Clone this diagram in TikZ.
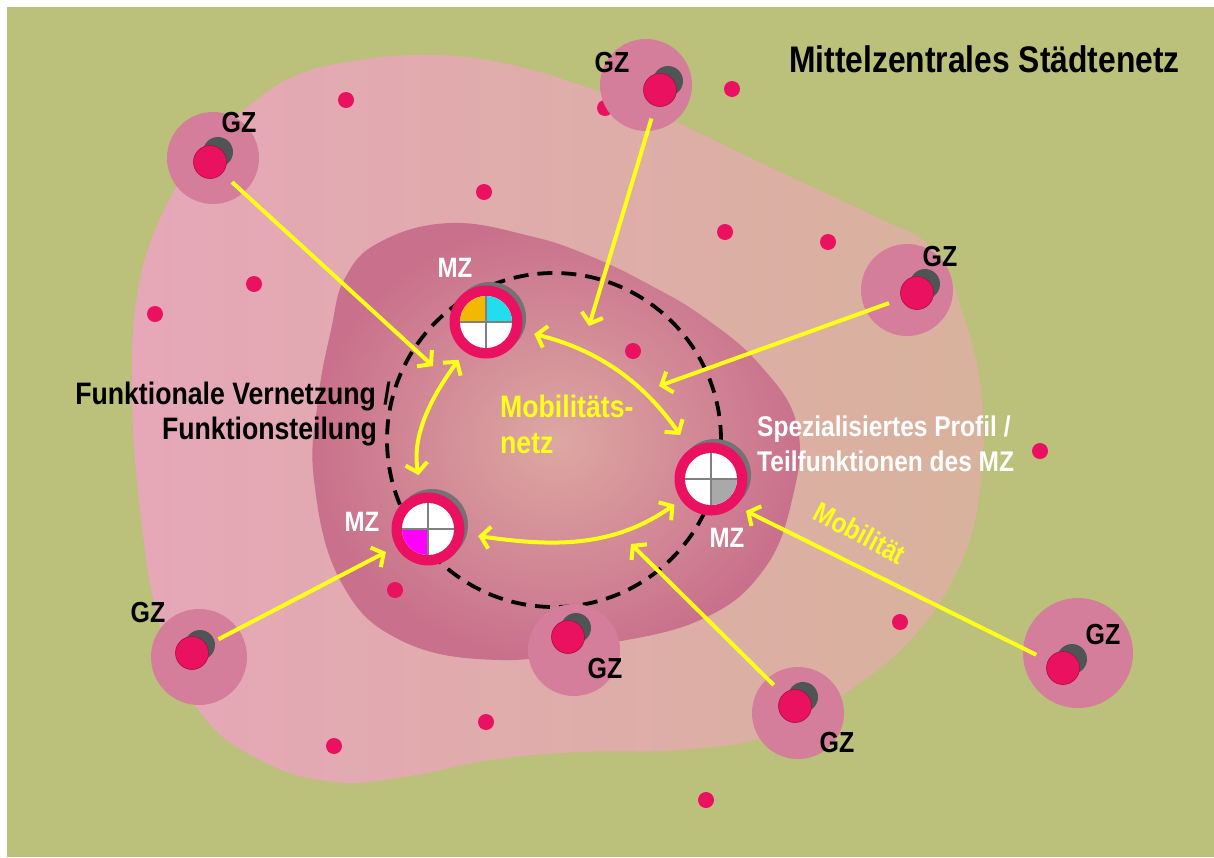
\documentclass[tikz,border=0pt]{standalone}
\usepackage{fontspec}
\setmainfont{Liberation Sans}[FakeStretch=0.86]
\usepackage{xcolor}
\usepackage{tikz}
\usetikzlibrary{arrows.meta}
\definecolor{CBBC07A}{HTML}{BBC07A}
\definecolor{CE6A7B8}{HTML}{E6A7B8}
\definecolor{CD8B29C}{HTML}{D8B29C}
\definecolor{CC9708C}{HTML}{C9708C}
\definecolor{CDDA8A2}{HTML}{DDA8A2}
\definecolor{CD47E9C}{HTML}{D47E9C}
\definecolor{C4F5454}{HTML}{4F5454}
\definecolor{CEA1160}{HTML}{EA1160}
\definecolor{CA80E45}{HTML}{A80E45}
\definecolor{C737373}{HTML}{737373}
\definecolor{CFFFF1A}{HTML}{FFFF1A}
\definecolor{CF5B800}{HTML}{F5B800}
\definecolor{C22DDEE}{HTML}{22DDEE}
\definecolor{CFF00FF}{HTML}{FF00FF}
\definecolor{CA9A9A9}{HTML}{A9A9A9}
\definecolor{C808080}{HTML}{808080}

\begin{document}
\begin{tikzpicture}[inner sep=0pt,
  >={Straight Barb[length=9pt,width=22pt]},
  halo/.style={shape=circle, fill=CD47E9C, minimum size=92pt},
  gzshadow/.style={shape=circle, fill=C4F5454, minimum size=30pt},
  gzdot/.style={shape=circle, fill=CEA1160, draw=CA80E45, line width=0.6pt, minimum size=33pt},
  spot/.style={shape=circle, fill=CEA1160, minimum size=16pt},
  mzshadow/.style={shape=circle, fill=C737373, minimum size=72pt},
  mzring/.style={shape=circle, fill=CEA1160, minimum size=73pt},
  gzlabel/.style={font=\bfseries\fontsize{29}{31}\selectfont, text=black},
  mzlabel/.style={font=\bfseries\fontsize{28}{30}\selectfont, text=white},
  flow/.style={->, draw=CFFFF1A, line width=4pt, shorten <=13pt},
  link/.style={<->, draw=CFFFF1A, line width=4pt},
  quarter/.style={line width=1.2pt, draw=C808080}]
\useasboundingbox (0pt,0pt) rectangle (1214pt,-857pt);
\fill[white] (0pt,0pt) rectangle (1214pt,-857pt);
\fill[CBBC07A] (7pt,-7pt) rectangle (1214pt,-857pt);

% outer region
\shade[left color=CE6A7B8, right color=CD8B29C] plot[smooth cycle, tension=0.7] coordinates {
  (164pt,-210pt) (205pt,-148pt) (256pt,-100pt) (302pt,-73pt) (360pt,-60pt) (417pt,-55pt)
  (474pt,-58pt) (532pt,-70pt) (589pt,-88pt) (645pt,-108pt) (693pt,-130pt) (761pt,-163pt)
  (819pt,-190pt) (876pt,-217pt) (934pt,-250pt) (965pt,-320pt) (982pt,-400pt) (980pt,-490pt)
  (960pt,-565pt) (915pt,-635pt) (850pt,-690pt) (770pt,-735pt) (680pt,-750pt) (580pt,-752pt)
  (490pt,-760pt) (410pt,-776pt) (335pt,-782pt) (260pt,-760pt) (200pt,-712pt) (160pt,-625pt)
  (140pt,-510pt) (132pt,-390pt) (138pt,-290pt)};
% inner region
\shade[inner color=CDDA8A2, outer color=CC9708C] plot[smooth cycle, tension=0.7] coordinates {
  (331pt,-330pt) (345pt,-278pt) (380pt,-242pt) (450pt,-223pt) (530pt,-236pt) (590pt,-256pt)
  (650pt,-285pt) (705pt,-318pt) (760pt,-365pt) (797pt,-425pt) (792pt,-500pt) (762pt,-572pt)
  (700pt,-620pt) (600pt,-645pt) (500pt,-660pt) (400pt,-640pt) (340pt,-580pt) (314pt,-480pt)
  (318pt,-400pt)};

% small places
\node (s1) [spot, at={(346pt,-100pt)}] {};
\node (s2) [spot, at={(605pt,-108pt)}] {};
\node (s3) [spot, at={(732pt,-89pt)}] {};
\node (s4) [spot, at={(484pt,-192pt)}] {};
\node (s5) [spot, at={(725pt,-232pt)}] {};
\node (s6) [spot, at={(828pt,-242pt)}] {};
\node (s7) [spot, at={(254pt,-284pt)}] {};
\node (s8) [spot, at={(155pt,-314pt)}] {};
\node (s9) [spot, at={(633pt,-351pt)}] {};
\node (s10) [spot, at={(1040pt,-451pt)}] {};
\node (s11) [spot, at={(395pt,-590pt)}] {};
\node (s12) [spot, at={(900pt,-622pt)}] {};
\node (s13) [spot, at={(486pt,-722pt)}] {};
\node (s14) [spot, at={(334pt,-746pt)}] {};
\node (s15) [spot, at={(706pt,-800pt)}] {};

% network ring
\draw[black, line width=3.8pt, dash pattern=on 15pt off 9pt] (554pt,-440pt) circle (167pt);

% GZ
\node (gzAh) [halo, at={(213pt,-158pt)}] {};
\node (gzAs) [gzshadow, at={(218pt,-152pt)}] {};
\node (gzA) [gzdot, at={(210pt,-162pt)}] {};
\node (gzAl) [gzlabel, at={(239pt,-123pt)}] {GZ};

\node (gzBh) [halo, at={(646pt,-85pt)}] {};
\node (gzBs) [gzshadow, at={(668pt,-81pt)}] {};
\node (gzB) [gzdot, at={(660pt,-90pt)}] {};
\node (gzBl) [gzlabel, at={(612pt,-63pt)}] {GZ};

\node (gzCh) [halo, at={(907pt,-290pt)}] {};
\node (gzCs) [gzshadow, at={(925pt,-284pt)}] {};
\node (gzC) [gzdot, at={(917pt,-293pt)}] {};
\node (gzCl) [gzlabel, at={(940pt,-257pt)}] {GZ};

\node (gzDh) [halo, minimum size=110pt, at={(1078pt,-653pt)}] {};
\node (gzDs) [gzshadow, at={(1072pt,-659pt)}] {};
\node (gzD) [gzdot, at={(1063pt,-668pt)}] {};
\node (gzDl) [gzlabel, at={(1103pt,-635pt)}] {GZ};

\node (gzEh) [halo, at={(798pt,-713pt)}] {};
\node (gzEs) [gzshadow, at={(803pt,-697pt)}] {};
\node (gzE) [gzdot, at={(795pt,-706pt)}] {};
\node (gzEl) [gzlabel, at={(837pt,-743pt)}] {GZ};

\node (gzFh) [halo, at={(574pt,-650pt)}] {};
\node (gzFs) [gzshadow, at={(576pt,-628pt)}] {};
\node (gzF) [gzdot, at={(568pt,-637pt)}] {};
\node (gzFl) [gzlabel, at={(605pt,-669pt)}] {GZ};

\node (gzGh) [halo, minimum size=96pt, at={(199pt,-657pt)}] {};
\node (gzGs) [gzshadow, at={(200pt,-645pt)}] {};
\node (gzG) [gzdot, at={(192pt,-653pt)}] {};
\node (gzGl) [gzlabel, at={(148pt,-613pt)}] {GZ};

% MZ
\node (mzAs) [mzshadow, at={(490pt,-318pt)}] {};
\node (mzA) [mzring, at={(486pt,-322pt)}] {};
\fill[white] (mzA.center) circle (26pt);
\fill[CF5B800] (mzA.center) -- ++(-26pt,0pt) arc (180:90:26pt) -- cycle;
\fill[C22DDEE] (mzA.center) -- ++(0pt,26pt) arc (90:0:26pt) -- cycle;
\draw[quarter] (mzA.center) ++(-26pt,0pt) -- ++(52pt,0pt) (mzA.center) ++(0pt,-26pt) -- ++(0pt,52pt);
\node (mzAl) [mzlabel, at={(455pt,-268pt)}] {MZ};

\node (mzBs) [mzshadow, at={(432pt,-525pt)}] {};
\node (mzB) [mzring, at={(428pt,-529pt)}] {};
\fill[white] (mzB.center) circle (26pt);
\fill[CFF00FF] (mzB.center) -- ++(-26pt,0pt) arc (180:270:26pt) -- cycle;
\draw[quarter] (mzB.center) ++(-26pt,0pt) -- ++(52pt,0pt) (mzB.center) ++(0pt,-26pt) -- ++(0pt,52pt);
\node (mzBl) [mzlabel, at={(362pt,-522pt)}] {MZ};

\node (mzCs) [mzshadow, at={(715pt,-475pt)}] {};
\node (mzC) [mzring, at={(711pt,-479pt)}] {};
\fill[white] (mzC.center) circle (26pt);
\fill[CA9A9A9] (mzC.center) -- ++(26pt,0pt) arc (0:-90:26pt) -- cycle;
\draw[quarter] (mzC.center) ++(-26pt,0pt) -- ++(52pt,0pt) (mzC.center) ++(0pt,-26pt) -- ++(0pt,52pt);
\node (mzCl) [mzlabel, at={(727pt,-538pt)}] {MZ};

% arrows from GZ
\coordinate (tA) at (433pt,-366pt);
\coordinate (tB) at (589pt,-326pt);
\coordinate (tC) at (659pt,-386pt);
\coordinate (tD) at (746pt,-511pt);
\coordinate (tE) at (631pt,-544pt);
\coordinate (tG) at (386pt,-552pt);
\path[flow] (gzA) -- (tA);
\path[flow] (gzB) -- (tB);
\path[flow] (gzC) -- (tC);
\path[flow] (gzD) -- (tD);
\path[flow] (gzE) -- (tE);
\path[flow] (gzG) -- (tG);

% links between MZ
\path[link, shorten <=10pt, shorten >=18pt] (mzA) to[out=234, in=100] (mzB);
\path[link, shorten <=13pt, shorten >=17pt] (mzA) to[out=-14, in=125] (mzC);
\path[link, shorten <=14pt, shorten >=8pt] (mzB) to[out=-8, in=215] (mzC);

% texts
\node (title) [anchor=base east, at={(1180pt,-72pt)}, font=\bfseries\fontsize{37}{40}\selectfont] {Mittelzentrales Städtenetz};
\node (vernetzungA) [anchor=base east, at={(391pt,-404pt)}, font=\bfseries\fontsize{31}{33}\selectfont] {Funktionale Vernetzung /};
\node (vernetzungB) [anchor=base east, at={(377pt,-439pt)}, font=\bfseries\fontsize{31}{33}\selectfont] {Funktionsteilung};
\node (netzA) [anchor=base west, at={(500pt,-417pt)}, text=CFFFF1A, font=\bfseries\fontsize{31}{33}\selectfont] {Mobilitäts-};
\node (netzB) [anchor=base west, at={(500pt,-453pt)}, text=CFFFF1A, font=\bfseries\fontsize{31}{33}\selectfont] {netz};
\node (profilA) [anchor=base west, at={(757pt,-436pt)}, text=white, font=\bfseries\fontsize{28.5}{31}\selectfont] {Spezialisiertes Profil /};
\node (profilB) [anchor=base west, at={(757pt,-471pt)}, text=white, font=\bfseries\fontsize{28.5}{31}\selectfont] {Teilfunktionen des MZ};
\node (mobil) [rotate=-28, at={(860pt,-533pt)}, text=CFFFF1A, font=\bfseries\fontsize{28}{30}\selectfont] {Mobilität};
\end{tikzpicture}
\end{document}
